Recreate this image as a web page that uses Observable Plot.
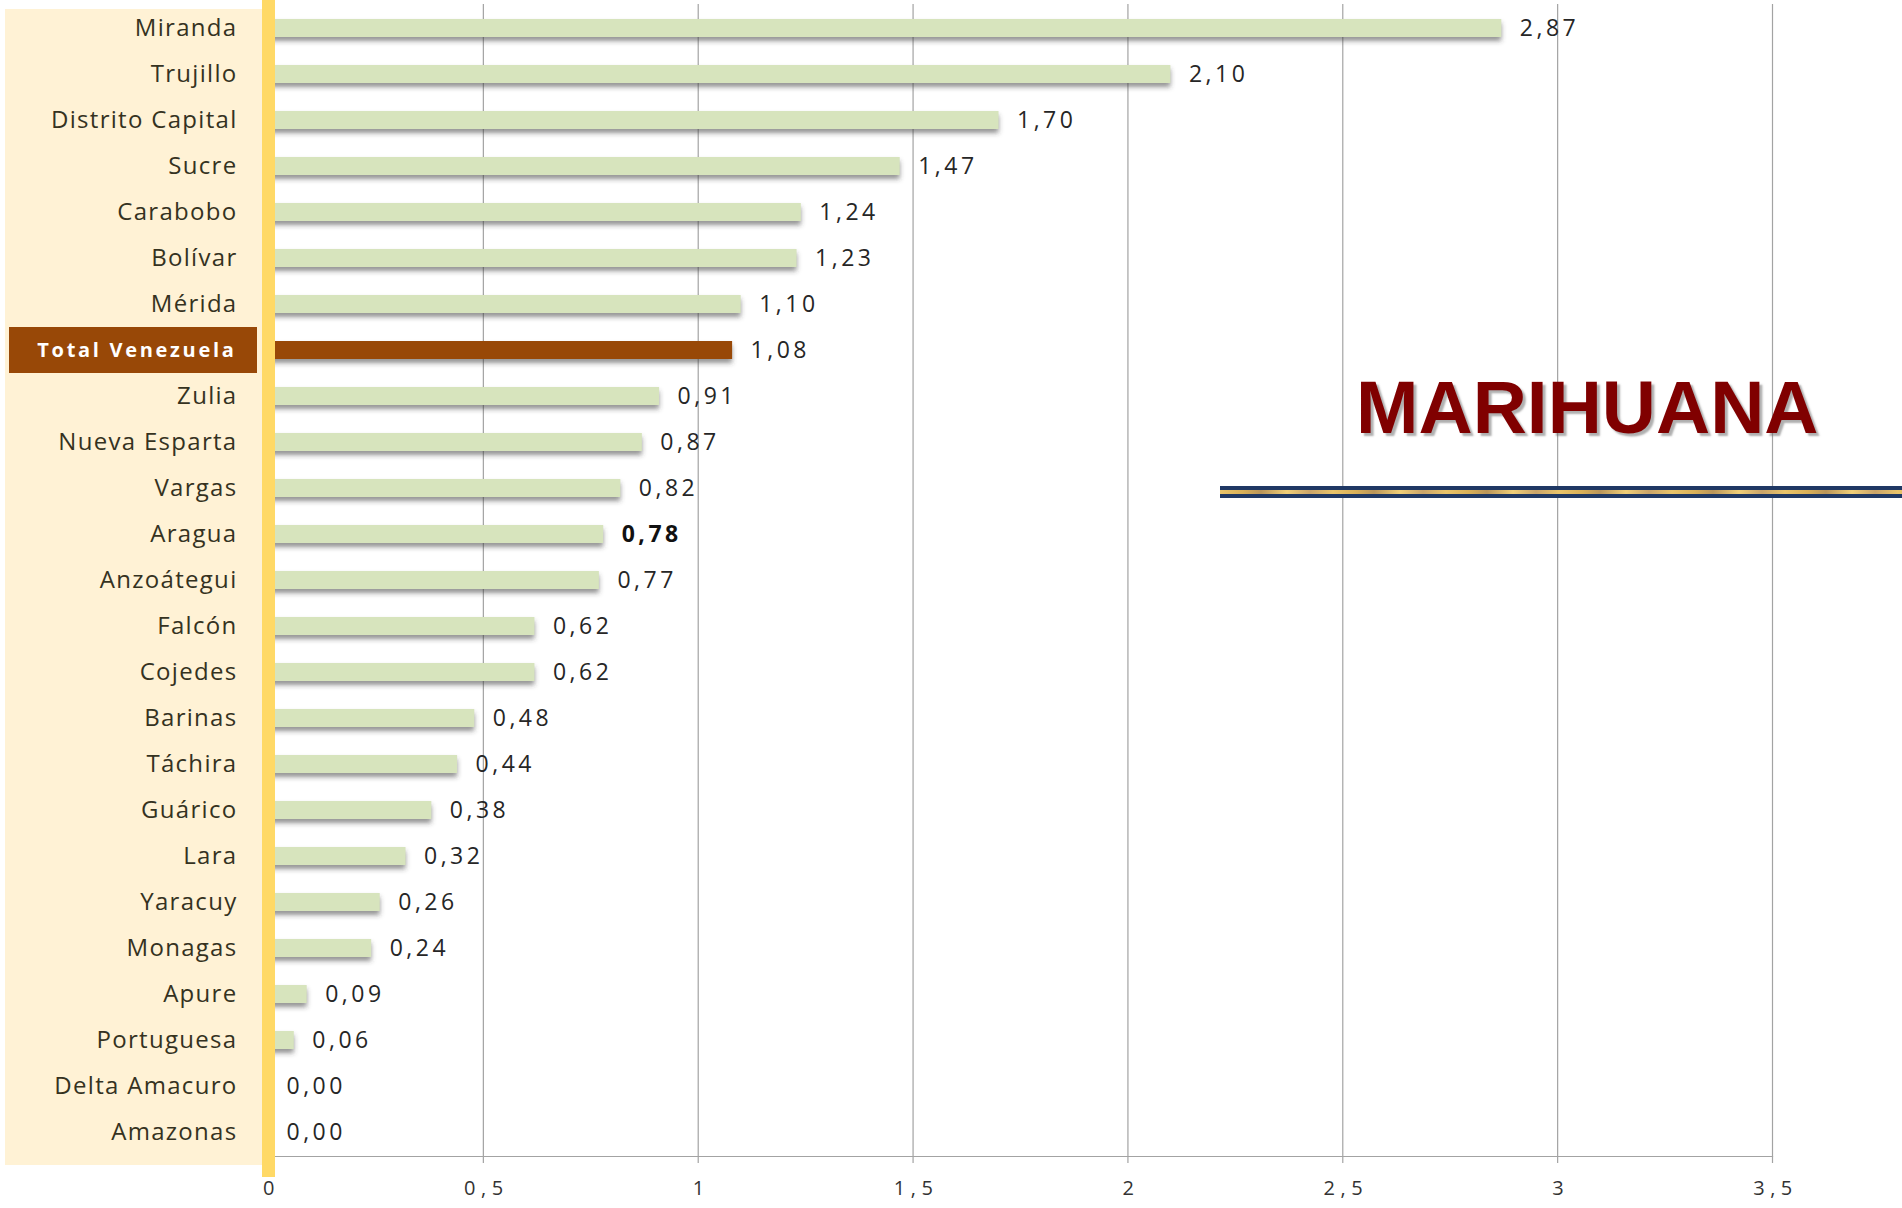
<!DOCTYPE html>
<html>
<head>
<meta charset="utf-8">
<script src="https://cdn.jsdelivr.net/npm/d3@7"></script>
<script src="https://cdn.jsdelivr.net/npm/@observablehq/plot@0.6"></script>
<style>
  html, body { margin: 0; padding: 0; background: #ffffff; }
  #wrap { position: relative; width: 1902px; height: 1208px; overflow: hidden; }
  #chart { position: absolute; left: 0; top: 0; }
  #title {
    position: absolute; left: 1356px; top: 369px;
    font-family: "Liberation Sans", Arial, sans-serif; font-weight: bold;
    font-size: 75px; line-height: 76px; color: #800000;
    text-shadow: 3px 3px 2px rgba(110,110,110,0.55);
    white-space: nowrap;
  }
  #rule {
    position: absolute; left: 1220px; top: 486px; width: 682px; height: 12px;
    background:
      linear-gradient(to bottom, #1f3864 0, #1f3864 3.5px, transparent 3.5px, transparent 8px, #1f3864 8px, #1f3864 12px),
      repeating-linear-gradient(to right, #e9c46a 0, #d9b058 23px, #b9955a 41px, #f0cf78 67px, #c9a46a 90px, #e9c46a 113px);
  }
</style>
</head>
<body>
<div id="wrap">
  <div id="chart"></div>
  <div id="title">MARIHUANA</div>
  <div id="rule"></div>
</div>
<script>
// ---- data ----
const states = ["Miranda", "Trujillo", "Distrito Capital", "Sucre", "Carabobo", "Bolívar", "Mérida",
  "Total Venezuela", "Zulia", "Nueva Esparta", "Vargas", "Aragua", "Anzoátegui", "Falcón", "Cojedes",
  "Barinas", "Táchira", "Guárico", "Lara", "Yaracuy", "Monagas", "Apure", "Portuguesa",
  "Delta Amacuro", "Amazonas"];
const values = [2.87, 2.10, 1.70, 1.47, 1.24, 1.23, 1.10, 1.08, 0.91, 0.87, 0.82, 0.78, 0.77, 0.62, 0.62,
  0.48, 0.44, 0.38, 0.32, 0.26, 0.24, 0.09, 0.06, 0.00, 0.00];
const xTicks = [0, 0.5, 1, 1.5, 2, 2.5, 3, 3.5];
const totalLabel = "Total Venezuela";
const boldValueState = "Aragua";

const rows = states.map((s, i) => ({state: s, value: values[i]}));
const comma = (v, d) => (d == null ? String(v) : v.toFixed(d)).replace(".", ",");

const barGreen = "#d7e4bd";
const barBrown = "#984807";
const textDark = "#262626";
const font = "'Open Sans', 'Noto Sans', sans-serif";

// decorative left panel + highlight for the total row, positioned with the y scale
function panel(index, scales, values, dims) {
  const g = d3.create("svg:g");
  g.append("rect")
    .attr("x", 5).attr("y", 9)
    .attr("width", dims.marginLeft - 10)
    .attr("height", dims.height - dims.marginBottom)
    .attr("fill", "#fff2d5");
  const y = scales.y;
  const bw = y.bandwidth ? y.bandwidth() : 18.4;
  const step = y.step ? y.step() : bw / 0.4;
  const cy = y(totalLabel) + bw / 2;
  g.append("rect")
    .attr("x", 9).attr("y", cy - step / 2)
    .attr("width", dims.marginLeft - 20)
    .attr("height", step)
    .attr("fill", barBrown);
  return g.node();
}

const chart = Plot.plot({
  width: 1902,
  height: 1208,
  marginLeft: 268,
  marginRight: 130,
  marginTop: 4,
  marginBottom: 52,
  style: {fontFamily: font, fontSize: "22px", color: textDark, background: "transparent"},
  x: {domain: [0, 3.5], axis: null},
  y: {domain: states, paddingInner: 0.6, paddingOuter: 0.3, align: 0.5, axis: null},
  marks: [
    panel,
    // grid lines, continuing below the axis line as tick marks
    Plot.ruleX(xTicks.slice(1), {stroke: "#a3a3a3", strokeWidth: 1.2, insetBottom: -7}),
    Plot.frame({anchor: "bottom", stroke: "#a3a3a3", strokeWidth: 1.2}),
    Plot.text(xTicks, {
      x: d => d, text: d => comma(d), frameAnchor: "bottom", dy: 38, dx: 3,
      fill: "#333333", fontSize: 20
    }),
    // bar shadows
    Plot.barX(rows, {x: "value", y: "state", fill: "#3a3a3a", fillOpacity: 0.55, dy: 4}),
    // bars
    Plot.barX(rows, {x: "value", y: "state", fill: d => d.state === totalLabel ? barBrown : barGreen}),
    // y axis drawn as a thick yellow rule with a soft shadow on its left
    Plot.ruleX([0], {stroke: "#6a6a6a", strokeOpacity: 0.6, strokeWidth: 8, dx: -6, insetTop: 4, insetBottom: -22}),
    Plot.ruleX([0], {stroke: "#ffd966", strokeWidth: 13, insetTop: -4, insetBottom: -21}),
    // value labels
    Plot.text(rows, {
      filter: d => d.state !== boldValueState,
      x: "value", y: "state", text: d => comma(d.value, 2),
      dx: 18, textAnchor: "start", fill: textDark, fontSize: 23
    }),
    Plot.text(rows, {
      filter: d => d.state === boldValueState,
      x: "value", y: "state", text: d => comma(d.value, 2),
      dx: 18, textAnchor: "start", fill: "#111111", fontSize: 23, fontWeight: "bold"
    }),
    // category labels
    Plot.text(rows, {
      filter: d => d.state !== totalLabel,
      y: "state", text: "state", frameAnchor: "left", dx: -31,
      textAnchor: "end", fill: "#35321f", fontSize: 24
    }),
    Plot.text(rows, {
      filter: d => d.state === totalLabel,
      y: "state", text: "state", frameAnchor: "left", dx: -32,
      textAnchor: "end", fill: "#ffffff", fontSize: 20, fontWeight: "bold"
    })
  ]
});

const svg = d3.select(chart);
svg.insert("defs", ":first-child").html(
  '<filter id="softShadow" x="-10%" y="-80%" width="120%" height="260%"><feGaussianBlur stdDeviation="2.5"/></filter>'
);
// soft shadows on the shadow layers
svg.selectAll('g[fill-opacity="0.55"], g[stroke-opacity="0.6"]').attr("filter", "url(#softShadow)");
// widen the text like the reference rendering
const tickSet = new Set(xTicks.map(d => comma(d)));
svg.selectAll("text").each(function () {
  const t = this.textContent;
  let ls = null;
  if (t === totalLabel) ls = "2.7px";
  else if (states.includes(t)) ls = "1.3px";
  else if (tickSet.has(t)) ls = "5.5px";
  else if (/^\d,\d\d$/.test(t)) ls = "3.5px";
  if (ls) this.setAttribute("letter-spacing", ls);
});

document.getElementById("chart").appendChild(chart);
</script>
</body>
</html>
